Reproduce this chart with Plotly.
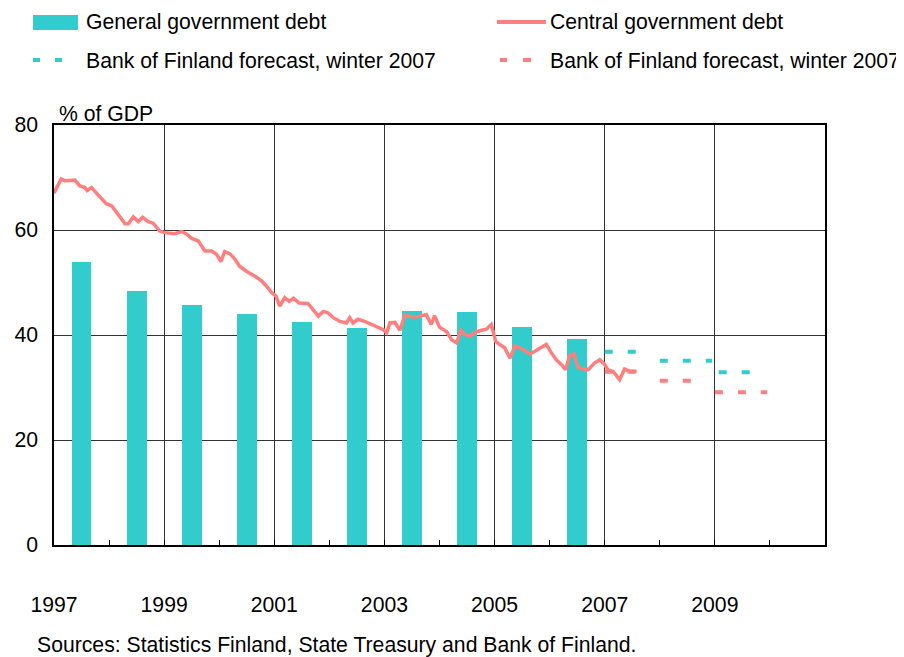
import plotly.graph_objects as go

# general government debt, annual, % of GDP
bar_years = [1997, 1998, 1999, 2000, 2001, 2002, 2003, 2004, 2005, 2006]
general_debt = [54.0, 48.4, 45.7, 44.0, 42.5, 41.4, 44.6, 44.3, 41.6, 39.3]

# central government debt (decimal years)
central_x = [1997.00, 1997.13, 1997.20, 1997.38, 1997.47, 1997.56, 1997.60, 1997.68, 1997.80, 1997.95,
             1998.05, 1998.17, 1998.29, 1998.35, 1998.44, 1998.53, 1998.61, 1998.71, 1998.80, 1998.92,
             1999.01, 1999.19, 1999.32, 1999.41, 1999.50, 1999.62, 1999.74, 1999.86, 1999.95,
             2000.03, 2000.10, 2000.19, 2000.28, 2000.37, 2000.46, 2000.50, 2000.65, 2000.77, 2000.86, 2000.95,
             2001.03, 2001.10, 2001.19, 2001.27, 2001.35, 2001.45, 2001.61, 2001.70, 2001.80, 2001.89, 2001.98,
             2002.07, 2002.19, 2002.31, 2002.37, 2002.43, 2002.52, 2002.64, 2002.77, 2002.88, 2002.98,
             2003.04, 2003.10, 2003.19, 2003.28, 2003.37, 2003.46, 2003.55, 2003.64, 2003.76, 2003.85, 2003.91,
             2004.00, 2004.13, 2004.22, 2004.31, 2004.39, 2004.46, 2004.55, 2004.64, 2004.76, 2004.85, 2004.94,
             2005.02, 2005.09, 2005.18, 2005.28, 2005.37, 2005.49, 2005.64, 2005.73, 2005.85, 2005.94,
             2006.03, 2006.12, 2006.21, 2006.29, 2006.36, 2006.44, 2006.52, 2006.61, 2006.70, 2006.82, 2006.91,
             2007.00, 2007.06, 2007.15, 2007.27, 2007.36, 2007.45, 2007.58]
central_debt = [67.0, 69.7, 69.4, 69.5, 68.4, 68.1, 67.5, 68.1, 66.7, 65.0,
                64.6, 63.0, 61.2, 61.2, 62.5, 61.6, 62.4, 61.6, 61.3, 59.8,
                59.5, 59.3, 59.7, 59.2, 58.4, 57.9, 56.0, 56.0, 55.4,
                54.0, 55.9, 55.5, 54.5, 53.1, 52.3, 52.1, 51.2, 50.3, 49.3, 48.1,
                47.4, 45.5, 47.1, 46.4, 47.0, 46.1, 46.0, 44.9, 43.6, 44.5, 44.2,
                43.3, 42.6, 42.3, 43.3, 42.3, 43.0, 42.6, 42.0, 41.5, 41.0,
                40.4, 42.3, 42.4, 40.9, 43.7, 43.5, 43.4, 43.6, 43.9, 42.0, 43.7,
                41.5, 40.6, 39.1, 38.5, 40.9, 40.1, 39.7, 40.5, 40.9, 41.1, 42.0,
                38.8, 38.2, 37.6, 35.6, 37.9, 37.4, 36.4, 36.9, 37.6, 38.2,
                36.6, 35.3, 34.4, 33.4, 36.0, 36.4, 33.7, 33.5, 33.4, 34.7, 35.3,
                34.4, 33.3, 33.1, 31.5, 33.5, 33.1, 33.1]

# Bank of Finland forecast, winter 2007
fc_general_start = [2007.0, 2008.0, 2009.07]
fc_general_end = [2007.6, 2008.95, 2009.75]
fc_general = [36.8, 35.1, 32.9]
fc_central_start = [2007.0, 2008.0, 2009.0]
fc_central_end = [2007.6, 2008.6, 2009.95]
fc_central = [33.0, 31.3, 29.1]

TEAL = "#33CCCC"
RED = "#FF7F7F"
FONT = "Arial, Liberation Sans, sans-serif"
FS = 21.2

fig = go.Figure()
fig.add_trace(go.Bar(x=[y + 0.5 for y in bar_years], y=general_debt, width=0.36,
                     marker=dict(color=TEAL, line=dict(width=0)), showlegend=False))
fig.add_trace(go.Scatter(x=central_x, y=central_debt, mode="lines",
                         line=dict(color=RED, width=3.5), showlegend=False))
for s, e, v in zip(fc_general_start, fc_general_end, fc_general):
    fig.add_trace(go.Scatter(x=[s, e], y=[v, v], mode="lines", showlegend=False,
                             line=dict(color=TEAL, width=4, dash="8px,15px")))
for s, e, v in zip(fc_central_start, fc_central_end, fc_central):
    fig.add_trace(go.Scatter(x=[s, e], y=[v, v], mode="lines", showlegend=False,
                             line=dict(color=RED, width=4, dash="8px,15px")))

# the page body has an 8px margin, so the figure is shrunk by that much
OFF = 8
W, H = 904 - OFF, 657 - OFF
L, R, T, B = 54 - OFF, 79, 125 - OFF, 112
pw, ph = W - L - R, H - T - B


def px(x):
    return (x - OFF - L) / pw


def py(y):
    return (H - B - (y - OFF)) / ph


shapes = [
    dict(type="rect", xref="paper", yref="paper", x0=px(33), x1=px(78), y0=py(30), y1=py(15),
         fillcolor=TEAL, line=dict(width=0)),
    dict(type="line", xref="paper", yref="paper", x0=px(497), x1=px(546), y0=py(22), y1=py(22),
         line=dict(color=RED, width=4)),
]
for a, b in [(33, 40), (55, 62)]:
    shapes.append(dict(type="rect", xref="paper", yref="paper", x0=px(a), x1=px(b), y0=py(62), y1=py(58),
                       fillcolor=TEAL, line=dict(width=0)))
for a, b in [(500, 507), (523, 531)]:
    shapes.append(dict(type="rect", xref="paper", yref="paper", x0=px(a), x1=px(b), y0=py(62), y1=py(58),
                       fillcolor=RED, line=dict(width=0)))

notes = [
    ("General government debt", 84, 22),
    ("Central government debt", 548, 22),
    ("Bank of Finland forecast, winter 2007", 84, 60),
    ("Bank of Finland forecast, winter 2007", 548, 60),
    ("% of GDP", 57, 113),
    ("Sources: Statistics Finland, State Treasury and Bank of Finland.", 35, 645),
]
annotations = [dict(text=t, xref="paper", yref="paper", x=px(x), y=py(y), xanchor="left", yanchor="middle",
                    showarrow=False, font=dict(size=FS, color="black", family=FONT)) for t, x, y in notes]

fig.update_layout(
    width=W, height=H, margin=dict(l=L, r=R, t=T, b=B, autoexpand=False),
    paper_bgcolor="white", plot_bgcolor="white",
    font=dict(family=FONT, size=FS, color="black"),
    showlegend=False, bargap=0,
    shapes=shapes, annotations=annotations,
    xaxis=dict(range=[1997, 2011], tickvals=[1997, 1999, 2001, 2003, 2005, 2007, 2009],
               ticktext=["1997", "1999", "2001", "2003", "2005", "2007", "2009"],
               showgrid=True, gridcolor="#333333", gridwidth=1,
               showline=True, linecolor="black", linewidth=1.5, mirror=True,
               ticks="inside", ticklen=5, tickcolor="black",
               minor=dict(dtick=1, tick0=1997, ticks="inside", ticklen=5, tickcolor="black", showgrid=False),
               ticklabelstandoff=40, zeroline=False, automargin=False),
    yaxis=dict(range=[0, 80], tickvals=[0, 20, 40, 60, 80],
               showgrid=True, gridcolor="#333333", gridwidth=1,
               showline=True, linecolor="black", linewidth=1.5, mirror=True,
               ticks="", ticklabelstandoff=10, zeroline=False, automargin=False),
)

fig.write_html("out.html")
